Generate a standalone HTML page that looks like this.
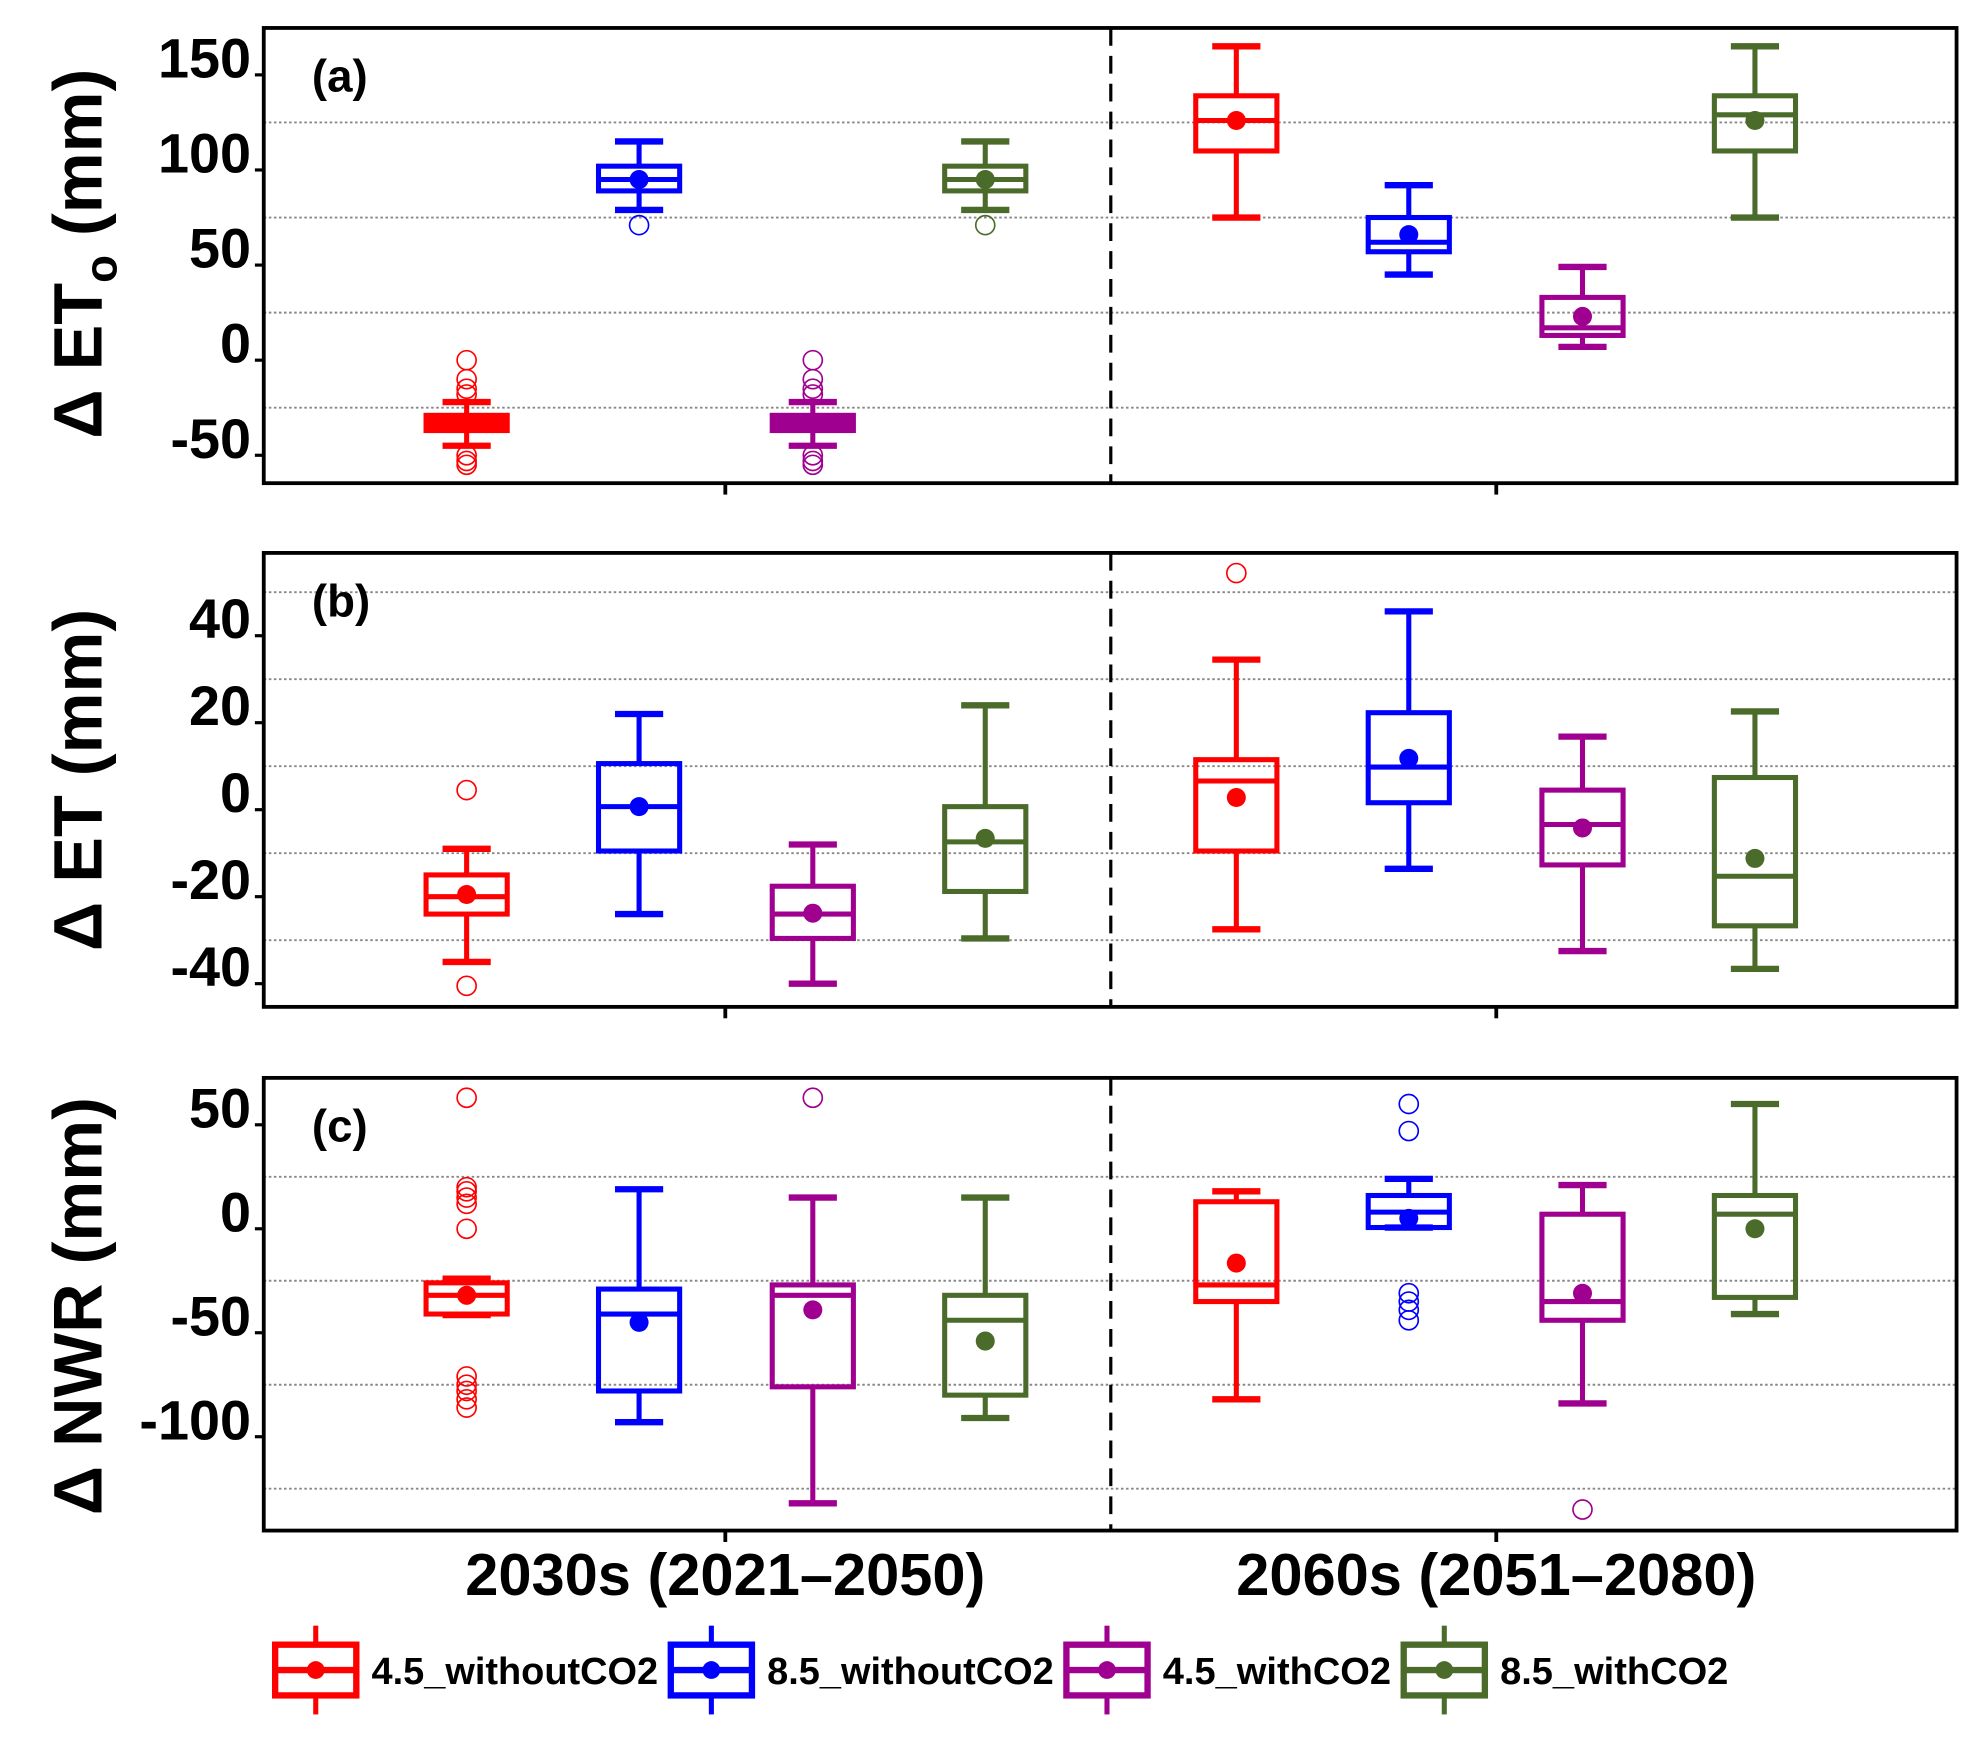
<!DOCTYPE html>
<html><head><meta charset="utf-8"><style>html,body{margin:0;padding:0;background:#fff}svg{display:block}text{font-family:"Liberation Sans",sans-serif;font-weight:bold}</style></head>
<body>
<svg id="chart" width="1987" height="1742" viewBox="0 0 1567 1373.7" xmlns="http://www.w3.org/2000/svg"></svg>
<script>
const seriesNames = ['4.5_withoutCO2','8.5_withoutCO2','4.5_withCO2','8.5_withCO2'];
const seriesColors = ['#ff0000','#0000ff','#a0008f','#4a6b2a'];
const periods = ['2030s (2021–2050)','2060s (2051–2080)'];
// each box: [whiskerLow, q1, median, q3, whiskerHigh, mean]
const etoBoxes = [
  [-45,-37,-33,-29,-22,-33],[79,89,95,102,115,95],[-45,-37,-33,-29,-22,-33],[79,89,95,102,115,95],
  [75,110,126,139,165,126],[45,57,62,75,92,66],[7,13,17,33,49,23],[75,110,129,139,165,126]
];
const etoOutliers = [[0,-10,-15,-18,-50,-53,-55],[71],[0,-10,-15,-18,-50,-53,-55],[71],[],[],[],[]];
const etBoxes = [
  [-35,-24,-20,-15,-9,-19.5],[-24,-9.5,0.7,10.6,22,0.7],[-40,-29.6,-24,-17.6,-8,-23.8],[-29.6,-18.8,-7.4,0.7,24,-6.6],
  [-27.5,-9.5,6.6,11.5,34.5,2.8],[-13.6,1.6,9.8,22.3,45.6,11.8],[-32.5,-12.7,-3.4,4.5,16.8,-4.2],[-36.6,-26.7,-15.3,7.4,22.6,-11.2]
];
const etOutliers = [[4.5,-40.5],[],[],[],[54.4],[],[],[]];
const nwrBoxes = [
  [-41.5,-41,-32,-26,-24,-32],[-93,-78,-41,-29,19,-45],[-132,-76,-32,-27,15,-39],[-91,-80,-44,-32,15,-54],
  [-82,-35,-27,13,18,-16.5],[0.6,0.6,8,16,24,5],[-84,-44,-35,7,21,-31],[-41,-33,7,16,60,0]
];
const nwrOutliers = [[63,20,18,15,12,0,-71,-75,-78,-82,-86],[],[63],[],[],[60,47,-31,-35,-39,-44],[-135],[]];
const etoTicks = [150,100,50,0,-50], etoGrid = [125,75,25,-25];
const etTicks = [40,20,0,-20,-40], etGrid = [50,30,10,-10,-30];
const nwrTicks = [50,0,-50,-100], nwrGrid = [25,-25,-75,-125];

const svg = document.getElementById('chart');
const NS = 'http://www.w3.org/2000/svg';
function mk(tag, attrs, parent){const e=document.createElementNS(NS,tag);for(const k in attrs)e.setAttribute(k,attrs[k]);(parent||svg).appendChild(e);return e;}
const L=208,R=1543,MID=876;
const boxX = [368,504,641,777,975,1111,1248,1384];
const panels = [
  {name:'eto',top:22,bottom:381,zero:284,k:1.5,ticks:etoTicks,grid:etoGrid,boxes:etoBoxes,out:etoOutliers,label:'(a)'},
  {name:'et',top:436,bottom:794,zero:638.5,k:3.43,ticks:etTicks,grid:etGrid,boxes:etBoxes,out:etOutliers,label:'(b)'},
  {name:'nwr',top:850,bottom:1207,zero:969,k:1.64,ticks:nwrTicks,grid:nwrGrid,boxes:nwrBoxes,out:nwrOutliers,label:'(c)'}
];
panels.forEach((p,pi)=>{
  const y=v=>p.zero-p.k*v;
  const g=mk('g',{});
  
  
  p.grid.forEach(v=>{const l=mk('line',{x1:L,x2:R,y1:y(v),y2:y(v),stroke:'#888','stroke-width':1.5,'stroke-dasharray':'2,2'},g);
    });
  const dv=mk('line',{x1:MID,x2:MID,y1:p.top,y2:p.bottom,stroke:'#000','stroke-width':2.5,'stroke-dasharray':'14,8'},g);
  
  p.boxes.forEach((b,i)=>{
    const c=seriesColors[i%4], x=boxX[i], w=32, cw=19;
    const bg=mk('g',{stroke:c,fill:'none','stroke-width':4},g);
    
    
    const h=Math.max(0,y(b[1])-y(b[3]));
    mk('line',{x1:x,x2:x,y1:y(b[0]),y2:y(b[1])},bg);
    mk('line',{x1:x,x2:x,y1:y(b[3]),y2:y(b[4])},bg);
    mk('line',{x1:x-cw,x2:x+cw,y1:y(b[0]),y2:y(b[0]),'stroke-width':5},bg);
    mk('line',{x1:x-cw,x2:x+cw,y1:y(b[4]),y2:y(b[4]),'stroke-width':5},bg);
    mk('rect',{x:x-w,y:y(b[3]),width:2*w,height:h,fill:h<15?c:'none'},bg);
    mk('line',{x1:x-w,x2:x+w,y1:y(b[2]),y2:y(b[2])},bg);
    mk('circle',{cx:x,cy:y(b[5]),r:7.5,fill:c,stroke:'none'},bg);
    p.out[i].forEach(v=>{const o=mk('circle',{cx:x,cy:y(v),r:7.5,fill:'none',stroke:c,'stroke-width':1.3},g);
      });
  });
  const fr=mk('rect',{x:L,y:p.top,width:R-L,height:p.bottom-p.top,fill:'none',stroke:'#000','stroke-width':3},g);
  
  [572,1180].forEach(tx=>mk('line',{x1:tx,x2:tx,y1:p.bottom,y2:p.bottom+9,stroke:'#000','stroke-width':3},g));
  p.ticks.forEach(v=>{
    mk('line',{x1:L-7,x2:L,y1:y(v),y2:y(v),stroke:'#000','stroke-width':2.5},g);
    const t=mk('text',{x:L-10,y:y(v)+2,'text-anchor':'end','font-size':44},g);
    t.textContent=v;
    
  });
  const pl=mk('text',{x:246,y:p.top+50,'font-size':36},g);
  pl.textContent=p.label;
});
function ytitle(cy,parts,name){
  const t=mk('text',{transform:`translate(80,${cy}) rotate(-90)`,'text-anchor':'middle','font-size':54});
  
  parts.forEach(pt=>{const s=mk('tspan',pt.sub?{'font-size':36,dy:12}:{dy:pt.dy||0},t);s.textContent=pt.t;});
}
ytitle(200,[{t:'Δ ET'},{t:'o',sub:1},{t:' (mm)',dy:-12}],'y-axis-title-eto');
ytitle(615,[{t:'Δ ET (mm)'}],'y-axis-title-et');
ytitle(1030,[{t:'Δ NWR (mm)'}],'y-axis-title-nwr');
periods.forEach((pn,i)=>{const t=mk('text',{x:i?1180:572,y:1258,'text-anchor':'middle','font-size':47});
  t.textContent=pn;});
const legX=[215,527,839,1105], legW=[226,226,180,180];
seriesNames.forEach((n,i)=>{
  const c=seriesColors[i], x=legX[i];
  const g=mk('g',{});
  
  
  mk('rect',{x:x+2,y:1297,width:64,height:40,fill:'none',stroke:c,'stroke-width':5},g);
  mk('line',{x1:x+2,x2:x+66,y1:1317,y2:1317,stroke:c,'stroke-width':5},g);
  mk('line',{x1:x+34,x2:x+34,y1:1282,y2:1297,stroke:c,'stroke-width':4},g);
  mk('line',{x1:x+34,x2:x+34,y1:1337,y2:1352,stroke:c,'stroke-width':4},g);
  mk('circle',{cx:x+34,cy:1317,r:7,fill:c},g);
  const t=mk('text',{x:x+78,y:1328,'font-size':30,textLength:legW[i],lengthAdjust:'spacingAndGlyphs'},g);
  t.textContent=n;
});
</script>
</body></html>
